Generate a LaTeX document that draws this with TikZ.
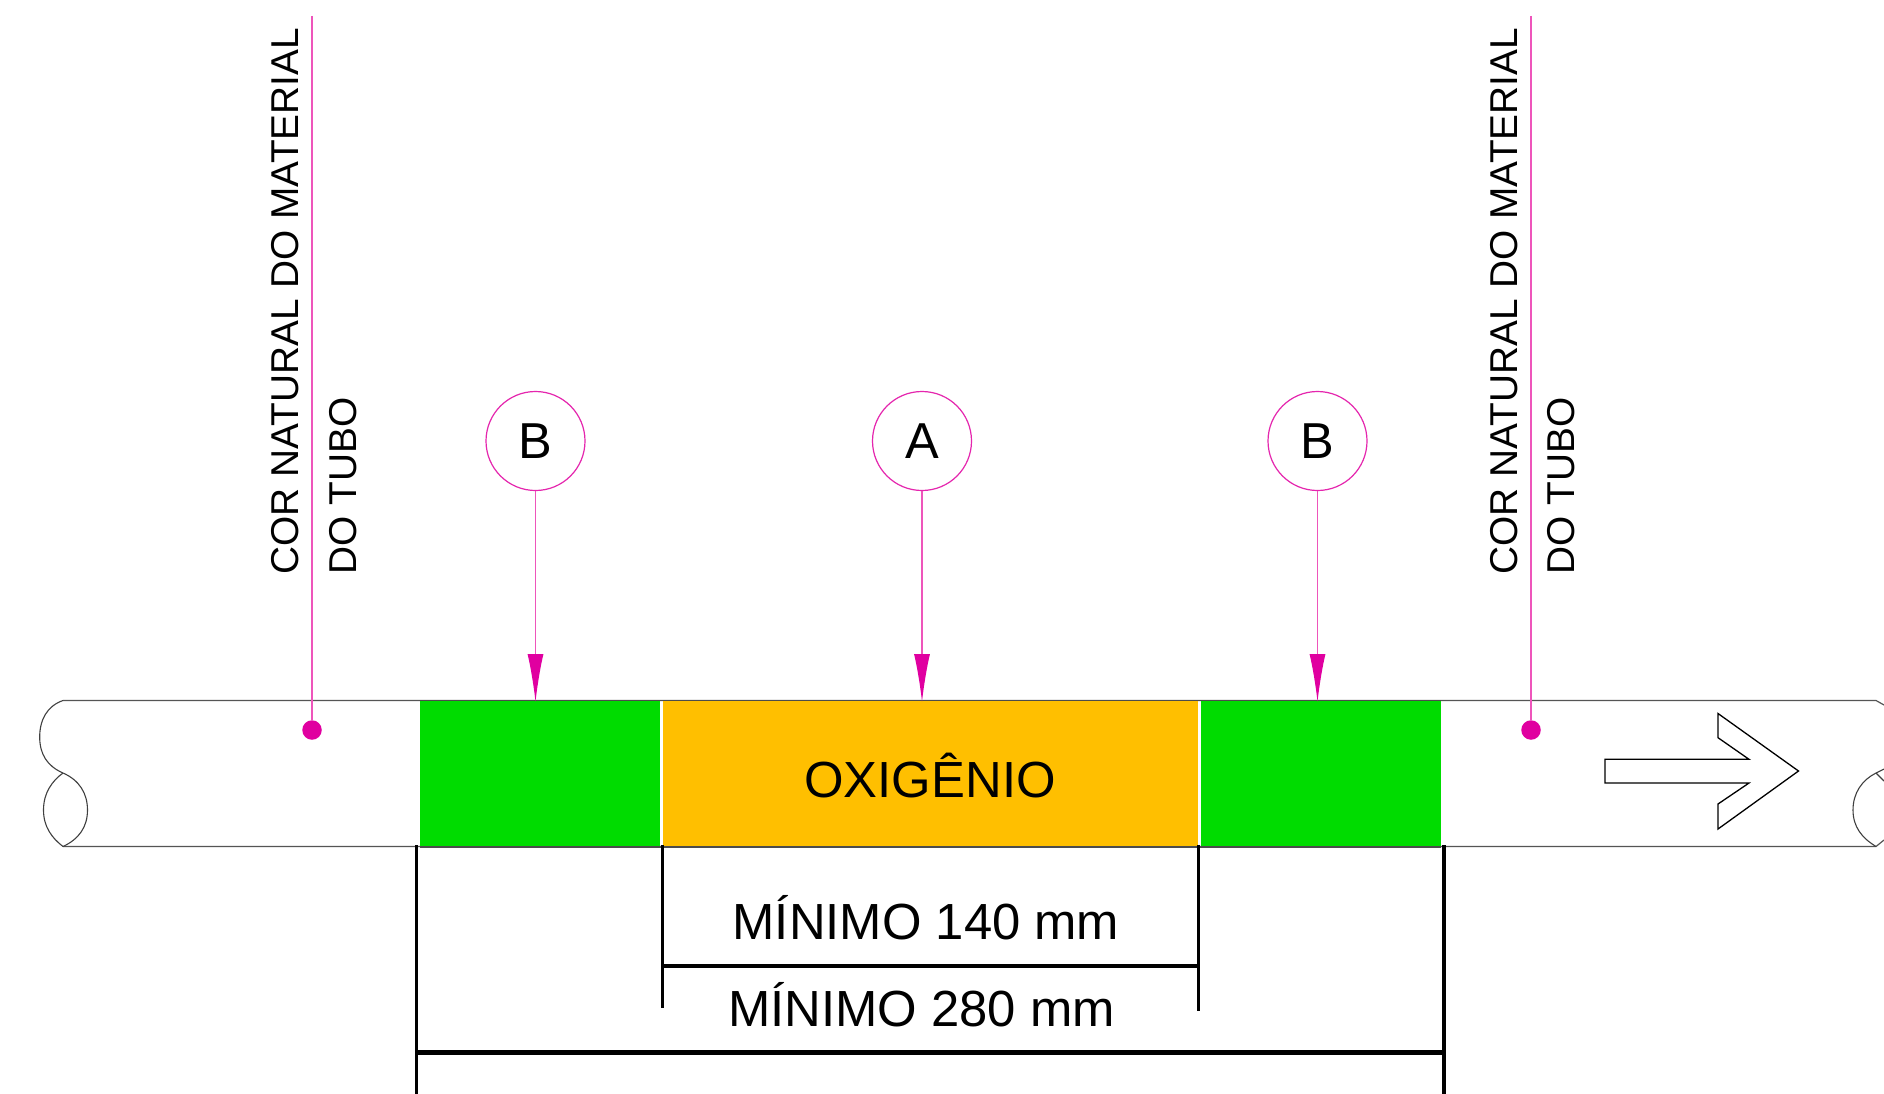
\documentclass[tikz,border=0pt]{standalone}
\usepackage{fontspec}
\setmainfont{Liberation Sans}
\usetikzlibrary{arrows.meta}
\definecolor{mag}{HTML}{E000A0}
\definecolor{magl}{HTML}{EE55BB}
\definecolor{gr}{HTML}{00DC00}
\definecolor{og}{HTML}{FFBF00}
\definecolor{pipe}{HTML}{555555}
\tikzset{
 x=1pt,y=-1pt,
 pipeline/.style={draw=pipe,line width=1.2pt},
 pipeend/.style={draw=black!75,line width=1.1pt},
 band/.style={inner sep=0,outer sep=0,anchor=north west,minimum height=146.5pt},
 balloon/.style={circle,draw=mag!85,line width=1.2pt,minimum size=99pt,inner sep=0,font=\fontsize{50.5}{50}\selectfont},
 leader/.style={draw=magl,line width=1.4pt},
 tip/.style={-{Latex[length=48pt,width=16pt,color=mag]}},
 dot/.style={circle,fill=mag,inner sep=0,minimum size=19.5pt},
 dim/.style={draw=black,line width=3.3pt},
 dimh/.style={draw=black,line width=4.6pt},
 lab/.style={inner sep=0,anchor=base,font=\fontsize{50.8}{50}\selectfont},
 vlab/.style={inner sep=0,anchor=base west,rotate=90,font=\fontsize{38.8}{40}\selectfont},
}
\begin{document}
\begin{tikzpicture}
\useasboundingbox (0,0) rectangle (1884,1094);
\fill[white] (0,0) rectangle (1884,1094);
% pipe
\coordinate (tl) at (63,700.5); \coordinate (bl) at (63,846.5);
\coordinate (ml) at (63,773);
\coordinate (tr) at (1876,700.5); \coordinate (br) at (1876,846.5);
\coordinate (mr) at (1876,773);
\draw[pipeline] (tl) -- (tr) -- (1884,705);
\draw[pipeline] (bl) -- (br) -- (1884,840);
\draw[pipeend] (tl) .. controls (47,706) and (39.7,720) .. (39.7,737) .. controls (39.7,754) and (47,766) .. (ml);
\draw[pipeend] (ml) .. controls (79,780) and (87.5,793) .. (87.5,810) .. controls (87.5,827) and (79,839) .. (bl);
\draw[pipeend] (ml) .. controls (52,781) and (43.5,793) .. (43.5,810) .. controls (43.5,827) and (52,838) .. (bl);
\draw[pipeend] (mr) .. controls (1862,780) and (1853,793) .. (1853,810) .. controls (1853,827) and (1862,838) .. (br);
\draw[pipeend] (mr) -- (1884,781);
\draw[pipeend] (mr) -- (1884,769);
% bands
\node[band,fill=gr,minimum width=240pt] (g1) at (419.5,700.5) {};
\node[band,fill=og,minimum width=535.5pt] (o) at (662.5,700.5) {};
\node[band,fill=gr,minimum width=240pt] (g2) at (1201,700.5) {};
\draw[draw=black!70,line width=1.1pt] (g1.north west) -- (g2.north east);
\draw[draw=black!70,line width=1.1pt] (g1.south west) -- (g2.south east);
\node[lab] (oxi) at (930,797.5) {OXIGÊNIO};
% direction arrow
\draw[draw=black,line width=1.3pt,line join=miter] (1605,759.3) -- (1749,759.3) -- (1718,737.7) -- (1718,713.5) -- (1798.5,771) -- (1718,829) -- (1718,804) -- (1749,783) -- (1605,783) -- cycle;
% natural colour callouts
\node[dot] (d1) at (312,730) {};
\node[dot] (d2) at (1531,730) {};
\coordinate (t1) at (312,16); \coordinate (t2) at (1531,16);
\draw[leader] (t1) -- (d1);
\draw[leader] (t2) -- (d2);
\node[vlab] (n1a) at (298,574.5) {COR NATURAL DO MATERIAL};
\node[vlab] (n1b) at (356,574.5) {DO TUBO};
\node[vlab] (n2a) at (1517,574.5) {COR NATURAL DO MATERIAL};
\node[vlab] (n2b) at (1574,574.5) {DO TUBO};
% balloons
\node[balloon] (bA) at (535.5,441) {B};
\node[balloon] (bB) at (922,441) {A};
\node[balloon] (bC) at (1317.5,441) {B};
\coordinate (pA) at (535.5,702); \coordinate (pB) at (922,702); \coordinate (pC) at (1317.5,702);
\draw[leader,tip] (bA) -- (pA);
\draw[leader,tip] (bB) -- (pB);
\draw[leader,tip] (bC) -- (pC);
% dimensions
\coordinate (e1) at (416.5,845); \coordinate (e2) at (662.5,845);
\coordinate (e3) at (1198.5,845); \coordinate (e4) at (1444,845);
\coordinate (e1b) at (416.5,1094); \coordinate (e2b) at (662.5,1008);
\coordinate (e3b) at (1198.5,1011); \coordinate (e4b) at (1444,1094);
\coordinate (h1) at (662.5,966); \coordinate (h2) at (1198.5,966);
\coordinate (h3) at (416.5,1052.5); \coordinate (h4) at (1444,1052.5);
\draw[dim] (e1) -- (e1b);
\draw[dim] (e2) -- (e2b);
\draw[dim] (e3) -- (e3b);
\draw[dim] (e4) -- (e4b);
\draw[dimh] (h1) -- (h2);
\draw[dimh] (h3) -- (h4);
\node[lab] (m1) at (926,939) {MÍNIMO 140 mm};
\node[lab] (m2) at (921.5,1026) {MÍNIMO 280 mm};
\end{tikzpicture}
\end{document}
